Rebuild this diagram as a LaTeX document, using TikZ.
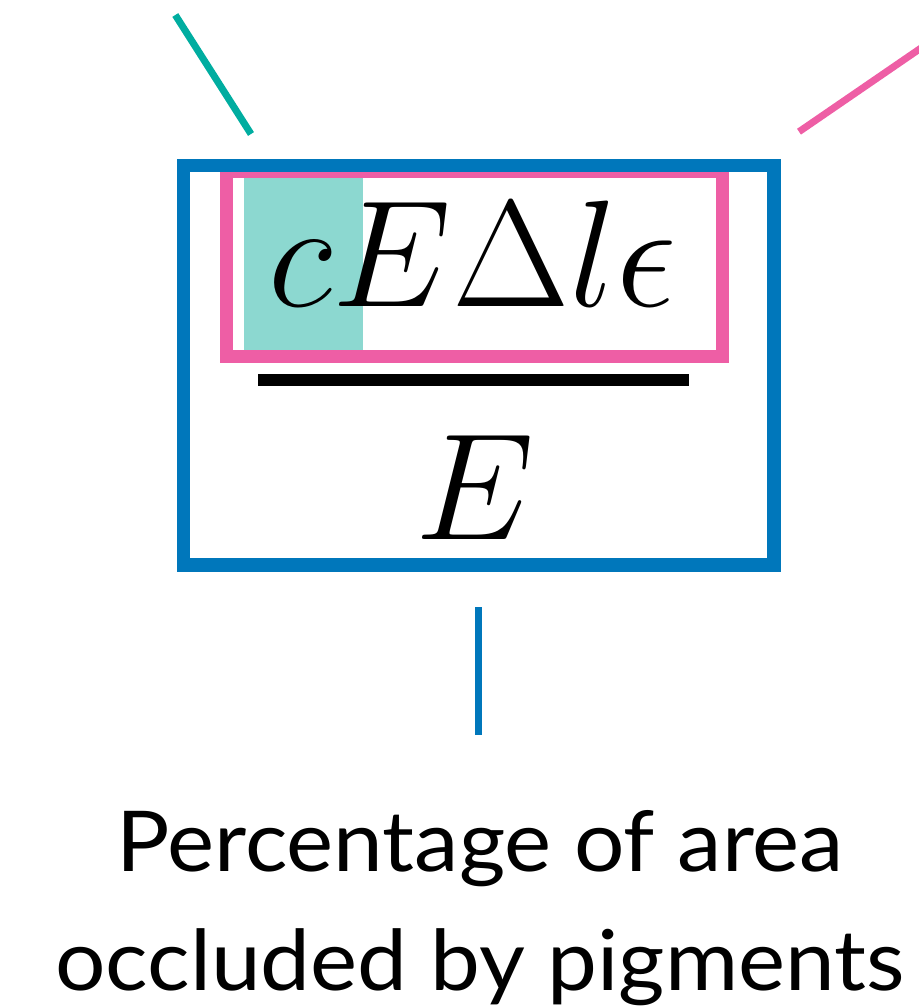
\RequirePackage{fix-cm}
\documentclass[tikz,border=0pt]{standalone}
\usepackage{fontspec}
\setmainfont{Lato}
\newfontfamily\capfont[FakeStretch=1.06]{Lato}
\definecolor{boxblue}{RGB}{0,119,187}
\definecolor{boxpink}{RGB}{238,94,165}
\definecolor{lineteal}{RGB}{0,173,160}
\definecolor{fillteal}{RGB}{140,216,208}
\newcommand{\eqsize}{\fontsize{152}{152}\selectfont}
\begin{document}
\begin{tikzpicture}[x=1pt,y=-1pt,
  frame/.style={line width=13.3pt, line join=miter},
  lead/.style={line width=7pt},
  eqtext/.style={inner sep=0pt, anchor=base},
  caption/.style={inner sep=0pt, anchor=base}]
\useasboundingbox (0,0) rectangle (918,1008);
% shaded portion
\fill[fillteal] (244,177.7) rectangle (362.7,350);
% pink box (numerator)
\draw[frame, boxpink] (226.7,171) rectangle (722.5,356.7);
% blue box (whole fraction)
\draw[frame, boxblue] (183.3,165.7) rectangle (774,565);
% fraction bar
\fill[black] (257.5,374) rectangle (689,385.5);
% numerator and denominator
\node[eqtext] (num) at (473,306.5) {\eqsize$cE\Delta l\epsilon$};
\node[eqtext] (den) at (474.8,539.3) {\eqsize$E$};
% leader lines
\coordinate (tealA) at (175.3,15);
\coordinate (tealB) at (251,134);
\coordinate (pinkA) at (799,131.7);
\coordinate (pinkB) at (940,35);
\coordinate (blueA) at (478.7,607);
\coordinate (blueB) at (478.7,735);
\draw[lead, lineteal] (tealA) -- (tealB);
\draw[lead, boxpink] (pinkA) -- (pinkB);
\draw[lead, boxblue] (blueA) -- (blueB);
% caption
\node[caption] (cap1) at (480,871.7) {\capfont\fontsize{84}{118}\selectfont Percentage of area};
\node[caption] (cap2) at (480,990) {\capfont\fontsize{84}{118}\selectfont occluded by pigments};
\end{tikzpicture}
\end{document}
